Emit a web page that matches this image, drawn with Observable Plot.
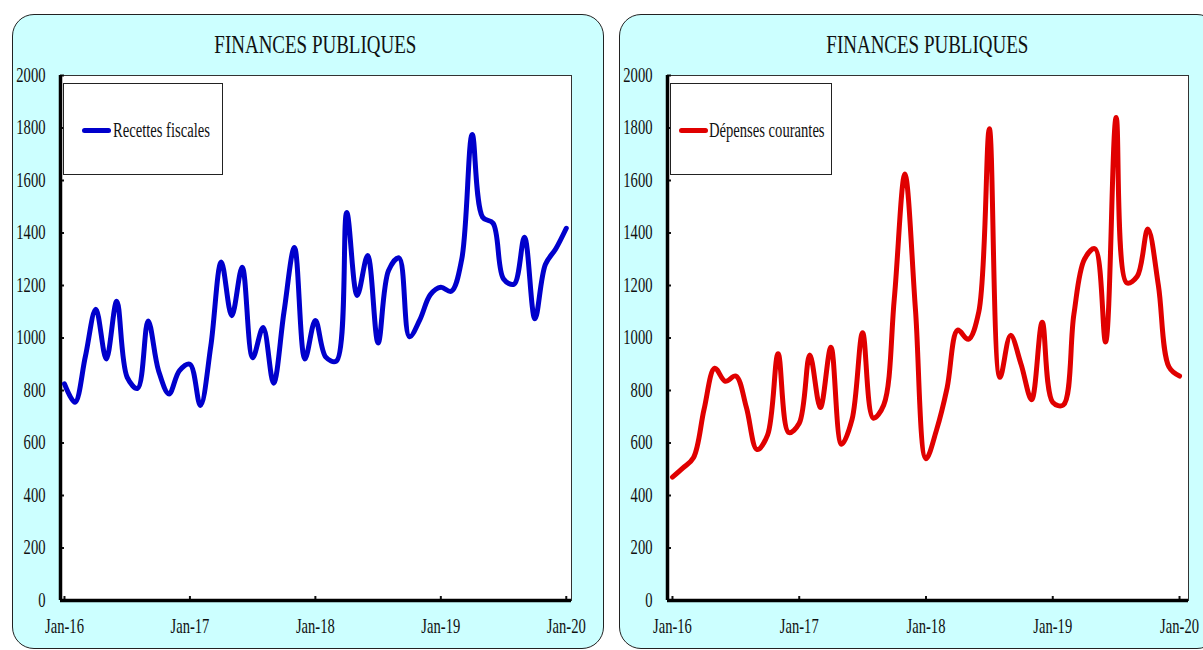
<!DOCTYPE html>
<html>
<head>
<meta charset="utf-8">
<script src="https://cdn.jsdelivr.net/npm/d3@7"></script>
<script src="https://cdn.jsdelivr.net/npm/@observablehq/plot@0.6"></script>
<style>
  html, body { margin: 0; padding: 0; background: #ffffff; overflow: hidden; width: 1203px; height: 650px; }
  body { position: relative; font-family: "Liberation Serif", "Times New Roman", serif; color: #111; }
  .panel { position: absolute; box-sizing: border-box; background: #ccffff; border: 1px solid #222; border-radius: 22px; }
  .title { position: absolute; width: 400px; text-align: center; font-size: 26px; line-height: 26px; white-space: nowrap; }
  .title span, .legend .lt { display: inline-block; transform: scaleX(0.73); }
  .title span { transform-origin: center; }
  .chart { position: absolute; }
  .legend { position: absolute; box-sizing: border-box; background: #fff; border: 1px solid #222; }
  .legend .sw { position: absolute; height: 5px; border-radius: 3px; }
  .legend .lt { position: absolute; font-size: 20px; line-height: 20px; white-space: nowrap; transform-origin: left center; }
</style>
</head>
<body>
<script>
// ---- data ----
const monthLabels = d3.utcMonths(new Date(Date.UTC(2016, 0, 1)), new Date(Date.UTC(2020, 0, 2))).map(d3.utcFormat("%b-%y"));
const xTicks = monthLabels.map((l, i) => l.startsWith("Jan") ? i : null).filter(i => i !== null);
const yTicks = [0, 200, 400, 600, 800, 1000, 1200, 1400, 1600, 1800, 2000];
const titleText = "FINANCES PUBLIQUES";
const seriesNames = ["Recettes fiscales", "Dépenses courantes"];
const seriesColors = ["#0000cc", "#e00000"];
const recettes = [825, 755, 930, 1110, 920, 1140, 850, 808, 1065, 875, 787, 876, 900, 743, 970, 1290, 1085, 1270, 925, 1040, 828, 1100, 1345, 920, 1067, 927, 912, 1478, 1162, 1314, 981, 1257, 1305, 1005, 1070, 1165, 1193, 1178, 1300, 1775, 1460, 1437, 1225, 1205, 1384, 1073, 1280, 1340, 1418];
const depenses = [470, 505, 545, 730, 885, 835, 855, 735, 575, 630, 940, 640, 675, 935, 735, 965, 595, 690, 1020, 695, 745, 1150, 1625, 1110, 540, 650, 810, 1030, 995, 1100, 1797, 850, 1010, 900, 765, 1060, 755, 745, 1090, 1300, 1340, 985, 1840, 1210, 1235, 1415, 1200, 890, 855];

function condense(svg, k) {
  svg.querySelectorAll("text").forEach(t => {
    const x = parseFloat(t.getAttribute("x")) || 0;
    const tr = t.getAttribute("transform") || "";
    t.removeAttribute("x");
    t.setAttribute("transform", `${tr} translate(${x},0) scale(${k},1)`);
  });
}

function el(tag, cls, style, text) {
  const e = document.createElement(tag);
  if (cls) e.className = cls;
  Object.assign(e.style, style || {});
  if (text != null) e.textContent = text;
  return e;
}

function makeChart(cfg) {
  const {values, color, name, panelLeft, panelWidth, svgWidth, marginLeft, marginRight, xDomain, legendLeft, legendWidth, swatchLeft, textLeft} = cfg;
  document.body.appendChild(el("div", "panel", {left: panelLeft + "px", top: "14px", width: panelWidth + "px", height: "635px"}));
  const data = values.map((v, i) => ({m: i, v}));
  const height = 589, marginTop = 15, marginBottom = 49;
  const svg = Plot.plot({
    width: svgWidth, height, marginLeft, marginRight, marginTop, marginBottom,
    style: {background: "transparent", fontFamily: "'Liberation Serif', 'Times New Roman', serif", fontSize: "20px", color: "#111", overflow: "visible"},
    x: {domain: xDomain, label: null},
    y: {domain: [0, 2000], label: null},
    marks: [
      Plot.frame({fill: "white", stroke: "#333", strokeWidth: 1}),
      Plot.axisY({ticks: yTicks, label: null, tickSize: -4, tickPadding: 19, tickFormat: d3.format("d"), strokeWidth: 2}),
      Plot.axisX({ticks: xTicks, label: null, tickSize: -4, tickPadding: 22, tickFormat: i => monthLabels[i], strokeWidth: 2}),
      Plot.ruleY([0], {strokeWidth: 3.5, stroke: "#000"}),
      Plot.ruleX([xDomain[0]], {strokeWidth: 3.5, stroke: "#000"}),
      Plot.line(data, {x: "m", y: "v", stroke: color, strokeWidth: 5, curve: "catmull-rom", strokeLinecap: "round", strokeLinejoin: "round"})
    ]
  });
  condense(svg, 0.73);
  const wrap = el("div", "chart", {left: panelLeft + "px", top: "60px"});
  wrap.appendChild(svg);
  document.body.appendChild(wrap);
  // title centered over the plot frame
  const frameCenter = panelLeft + marginLeft + (svgWidth - marginLeft - marginRight) / 2;
  const t = el("div", "title", {left: (frameCenter - 200) + "px", top: "32px"});
  t.appendChild(el("span", null, null, titleText));
  document.body.appendChild(t);
  // legend
  const lg = el("div", "legend", {left: legendLeft + "px", top: "83px", width: legendWidth + "px", height: "92px"});
  lg.appendChild(el("div", "sw", {left: swatchLeft + "px", top: "44px", width: "29px", background: color}));
  lg.appendChild(el("span", "lt", {left: textLeft + "px", top: "36px"}, name));
  document.body.appendChild(lg);
}

makeChart({values: recettes, color: seriesColors[0], name: seriesNames[0], panelLeft: 12, panelWidth: 592, svgWidth: 592,
  marginLeft: 48, marginRight: 33, xDomain: [-0.38, 48.5], legendLeft: 63, legendWidth: 160, swatchLeft: 18, textLeft: 49});
makeChart({values: depenses, color: seriesColors[1], name: seriesNames[1], panelLeft: 619, panelWidth: 600, svgWidth: 584,
  marginLeft: 48, marginRight: 15, xDomain: [-0.47, 48.85], legendLeft: 670, legendWidth: 162, swatchLeft: 8, textLeft: 38});
</script>
</body>
</html>
